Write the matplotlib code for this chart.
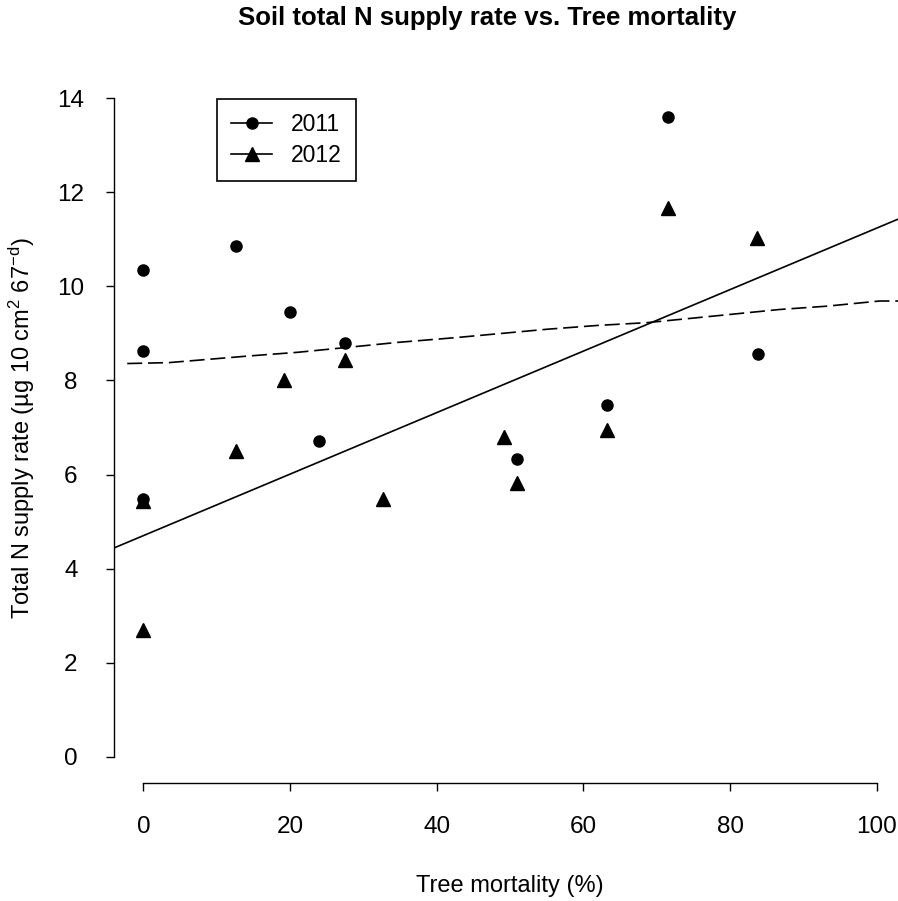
import matplotlib
matplotlib.use('Agg')
import matplotlib.pyplot as plt
from matplotlib.lines import Line2D

plt.rcParams['font.family'] = ['Liberation Sans', 'DejaVu Sans']
plt.rcParams['mathtext.fontset'] = 'custom'
plt.rcParams['mathtext.rm'] = 'Liberation Sans'
plt.rcParams['mathtext.it'] = 'Liberation Sans:italic'

# tree mortality (%) and total N supply rate
mort_2011 = [0.0, 0.0, 0.0, 12.6, 20.0, 23.9, 27.5, 50.9, 63.2, 71.5, 83.8]
n_2011 = [10.36, 8.62, 5.47, 10.87, 9.46, 6.72, 8.79, 6.32, 7.47, 13.60, 8.57]

mort_2012 = [0.0, 0.0, 12.6, 19.2, 27.5, 32.7, 49.2, 50.9, 63.2, 71.5, 83.7]
n_2012 = [5.43, 2.70, 6.50, 8.02, 8.43, 5.47, 6.80, 5.83, 6.94, 11.67, 11.02]

# linear fit (solid) and smooth trend (dashed)
fit_intercept = 4.70
fit_slope = 0.0654
trend_x = [-2.2, 3.5, 14.3, 21.1, 34.7, 42.5, 55.1, 61.9, 68.7, 77.8, 86.8, 93.2, 100.4, 104.0]
trend_y = [8.36, 8.38, 8.52, 8.60, 8.81, 8.91, 9.09, 9.17, 9.23, 9.37, 9.51, 9.58, 9.69, 9.69]

xticks = [0, 20, 40, 60, 80, 100]
yticks = [0, 2, 4, 6, 8, 10, 12, 14]

W, H = 898, 901
fig = plt.figure(figsize=(W / 100, H / 100), dpi=100)
ax = fig.add_axes([114 / W, 1 - 783 / H, (906 - 114) / W, (783 - 72) / H])
ax.set_xlim(-4, 104)
ax.set_ylim(-0.56, 14.56)

fx = [-4, 104]
ax.plot(fx, [fit_intercept + fit_slope * v for v in fx], color='black', lw=1.2)
ax.plot(trend_x, trend_y, color='black', lw=1.2, dashes=(9, 3.5))

ax.plot(mort_2011, n_2011, 'o', color='black', ms=8, ls='none')
ax.plot(mort_2012, n_2012, '^', color='black', ms=10.5, ls='none')

for s in ['top', 'right']:
    ax.spines[s].set_visible(False)
ax.spines['left'].set_bounds(0, 14)
ax.spines['bottom'].set_bounds(0, 100)
ax.spines['left'].set_linewidth(1.0)
ax.spines['bottom'].set_linewidth(1.0)

ax.set_xticks(xticks)
ax.set_yticks(yticks)
ax.tick_params(axis='both', direction='out', length=6, width=1.0, labelsize=17.5)
ax.tick_params(axis='x', pad=18)
ax.tick_params(axis='y', pad=25)
for lab in ax.get_yticklabels():
    lab.set_horizontalalignment('center')

fig.text(487 / W, 1 - 18 / H, 'Soil total N supply rate vs. Tree mortality',
         ha='center', va='center', fontsize=18.5, fontweight='bold')
fig.text(510 / W, 1 - 886 / H, 'Tree mortality (%)', ha='center', va='center', fontsize=17)
fig.text(22 / W, 1 - 428 / H, 'Total N supply rate (µg 10 cm$^{2}$ 67$^{\\mathrm{-d}}$)',
         ha='center', va='center', rotation=90, fontsize=17)

handles = [Line2D([0, 1], [0, 0], color='black', marker='o', ms=8, lw=1.2),
           Line2D([0, 1], [0, 0], color='black', marker='^', ms=10.5, lw=1.2)]
leg = ax.legend(handles, ['2011', '2012'], loc='upper left',
                bbox_to_anchor=(217 / W, 1 - 99 / H), bbox_transform=fig.transFigure,
                borderaxespad=0, fontsize=16.5, fancybox=False, edgecolor='black',
                framealpha=1, handlelength=1.8, handletextpad=0.8,
                labelspacing=0.35, borderpad=0.62)
leg.get_frame().set_linewidth(1.2)

fig.savefig('out.png', dpi=100)
